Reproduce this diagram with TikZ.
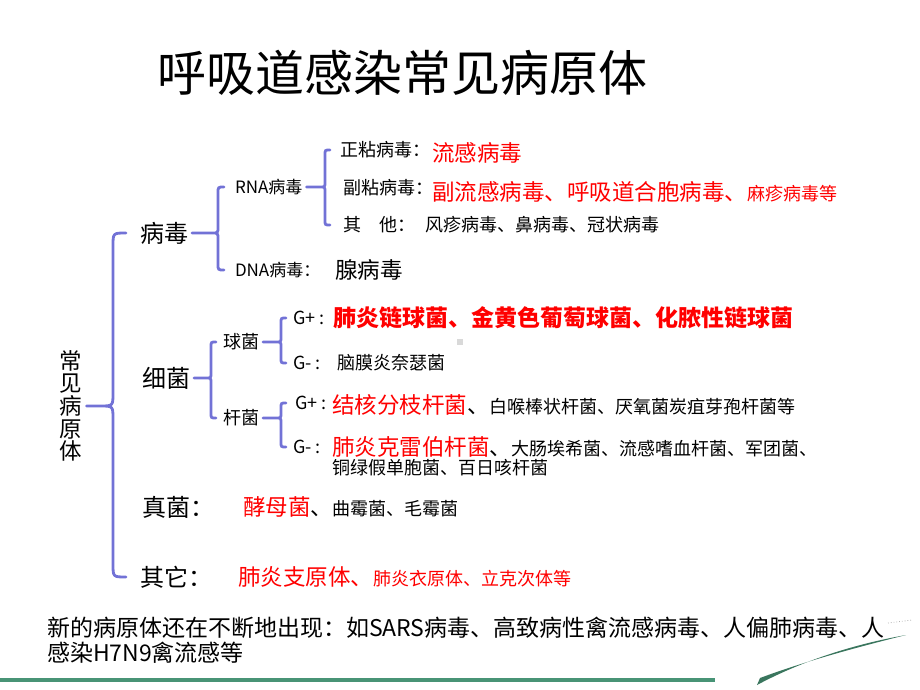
\documentclass[tikz,border=0pt]{standalone}
\usepackage{fontspec}
\setmainfont{Noto Sans CJK SC}
\usetikzlibrary{calc}

\definecolor{braceblue}{RGB}{114,114,214}
\definecolor{linegreen}{RGB}{72,148,118}

% brace from a parent node to its top and bottom child (spine x, curl radius)
\newcommand{\branch}[5]{%
  \draw[brace] let \p1=(#1.east), \p2=(#2.west), \p3=(#3.west), \n1={#4pt}, \n2={#5pt} in
    (\x1+4pt,\y1) -- (\n1-\n2,\y1) .. controls (\n1,\y1) .. (\n1,\y1+\n2)
      -- (\n1,\y2-\n2) .. controls (\n1,\y2) .. (\n1+\n2,\y2)
    (\n1-\n2,\y1) .. controls (\n1,\y1) .. (\n1,\y1-\n2)
      -- (\n1,\y3+\n2) .. controls (\n1,\y3) .. (\n1+\n2,\y3);
}

\tikzset{
  txt/.style={anchor=west, inner sep=0pt, outer sep=0pt},
  small/.style={txt, font=\fontsize{18}{21}\selectfont},
  mid/.style={txt, font=\fontsize{22.5}{26}\selectfont},
  big/.style={txt, font=\fontsize{24}{28}\selectfont},
  brace/.style={draw=braceblue, line width=2.8pt, line cap=round}
}

\newcommand{\hl}[1]{{\color{red}\fontsize{22.5}{26}\selectfont #1}}

\begin{document}
\begin{tikzpicture}[x=1pt, y=-1pt]
  \useasboundingbox (0,0) rectangle (920,690);

  % Title
  \node[inner sep=0pt, font=\fontsize{49}{52}\selectfont] (title) at (402,73) {呼吸道感染常见病原体};

  % Root
  \node[inner sep=0pt, align=center, font=\fontsize{22.5}{22.6}\selectfont] (root) at (71,406)
    {常\\见\\病\\原\\体};

  % First level
  \node[big] (virus) at (140,233) {病毒};
  \node[big] (bact) at (142,378) {细菌};
  \node[big] (fungi) at (142,507) {真菌：};
  \node[big] (other) at (140,577) {其它：};
  \branch{root}{virus}{other}{113}{13}

  % Viruses
  \node[small, font=\fontsize{17}{20}\selectfont] (rna) at (235,187) {RNA病毒};
  \node[small, font=\fontsize{17}{20}\selectfont] (dna) at (235,270) {DNA病毒：};
  \node[mid] (adeno) at (335,270) {腺病毒};
  \branch{virus}{rna}{dna}{218}{6}

  \node[small] (ortho) at (340,150) {正粘病毒：};
  \node[mid, red] (flu) at (432,153) {流感病毒};
  \node[small] (para) at (343,188) {副粘病毒：};
  \node[small, red] (paraflu) at (432,192) {\hl{副流感病毒、呼吸道合胞病毒、}麻疹病毒等};
  \node[small] (rnaother) at (343,225) {其\hspace{1em}他：};
  \node[small] (rnalist) at (425,225) {风疹病毒、鼻病毒、冠状病毒};
  \branch{rna}{ortho}{rnaother}{325}{5}

  % Bacteria
  \node[small] (cocci) at (223,342) {球菌};
  \node[small] (bacilli) at (223,418) {杆菌};
  \branch{bact}{cocci}{bacilli}{211}{5}

  \node[small] (gpc) at (293,318) {G+ :};
  \node[txt, red, font=\fontsize{23}{27}\selectfont\bfseries] (gpclist) at (333,318)
    {肺炎链球菌、金黄色葡萄球菌、化脓性链球菌};
  \fill[black!15] (457,339) rectangle (463,345);
  \node[small] (gnc) at (293,363) {G- :};
  \node[small] (gnclist) at (337,363) {脑膜炎奈瑟菌};
  \branch{cocci}{gpc}{gnc}{281}{5}

  \node[small] (gpb) at (295,403) {G+ :};
  \node[small] (gpblist) at (332,405)
    {\hl{结核分枝杆菌}{\fontsize{22}{26}\selectfont 、}白喉棒状杆菌、厌氧菌炭疽芽孢杆菌等};
  \node[small] (gnb) at (293,447) {G- :};
  \node[small] (gnblist) at (332,447)
    {\hl{肺炎克雷伯杆菌}{\fontsize{22}{26}\selectfont 、}大肠埃希菌、流感嗜血杆菌、军团菌、};
  \node[small] (gnbmore) at (332,468) {铜绿假单胞菌、百日咳杆菌};
  \branch{bacilli}{gpb}{gnb}{281}{5}

  % Fungi and others
  \node[small] (yeast) at (243,507)
    {\hl{酵母菌}{\fontsize{22}{26}\selectfont 、}曲霉菌、毛霉菌};
  \node[small, red] (mycoplasma) at (238,577)
    {\hl{肺炎支原体、}肺炎衣原体、立克次体等};

  % Note
  \node[txt, align=left, font=\fontsize{23}{25}\selectfont] (note) at (47,640)
    {新的病原体还在不断地出现：如SARS病毒、高致病性禽流感病毒、人偏肺病毒、人\\感染H7N9禽流感等};

  % Footer
  \draw[linegreen, line width=3.5pt] (0,680) -- (715,680);
  \fill[linegreen!80!black] (757,685) .. controls (800,662) and (850,645) .. (906,635)
    .. controls (850,649) and (800,663) .. (760,678) -- cycle;
  \draw[black!30, dotted, line width=0.8pt] (888,623) -- (912,620);
\end{tikzpicture}
\end{document}
